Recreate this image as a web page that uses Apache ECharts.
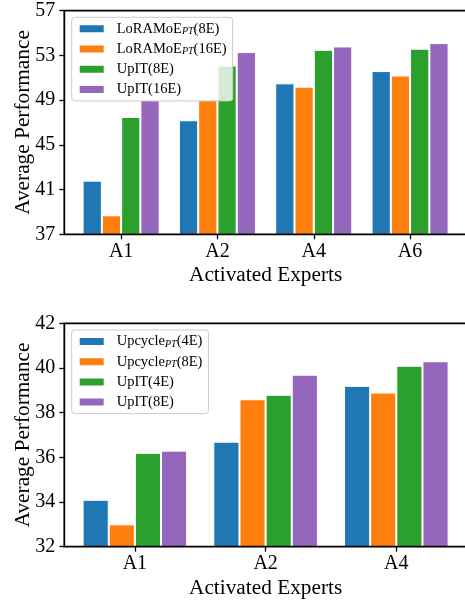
<!DOCTYPE html>
<html>
<head>
<meta charset="utf-8">
<script src="https://cdn.jsdelivr.net/npm/echarts@6/dist/echarts.min.js"></script>
<style>
html,body{margin:0;padding:0;background:#fff;overflow:hidden;}
#chart{width:465px;height:601px;}
</style>
</head>
<body>
<div id="chart"></div>
<script>
// ---- Top chart data ----
const topCategories = ['A1', 'A2', 'A4', 'A6'];
const topNames = ['LoRAMoE_PT(8E)', 'LoRAMoE_PT(16E)', 'UpIT(8E)', 'UpIT(16E)'];
const loramoe8E = [41.8, 47.2, 50.5, 51.6];
const loramoe16E = [38.7, 49.0, 50.2, 51.2];
const upit8E = [47.5, 52.1, 53.5, 53.6];
const upit16E = [49.0, 53.3, 53.8, 54.1];
const topYTicks = { min: 37, max: 57, interval: 4 };

// ---- Bottom chart data ----
const bottomCategories = ['A1', 'A2', 'A4'];
const bottomNames = ['Upcycle_PT(4E)', 'Upcycle_PT(8E)', 'UpIT(4E)', 'UpIT(8E) '];
const upcycle4E = [34.1, 36.7, 39.2];
const upcycle8E = [33.0, 38.6, 38.9];
const upit4E = [36.2, 38.8, 40.1];
const upit8E_b = [36.3, 39.7, 40.3];
const bottomYTicks = { min: 32, max: 42, interval: 2 };

const colors = ['#1f77b4', '#ff7f0e', '#2ca02c', '#9467bd'];
const FONT = 'Liberation Serif';

const chart = echarts.init(document.getElementById('chart'), null, { renderer: 'canvas' });

function legendCfg(names, top) {
  return {
    orient: 'vertical',
    left: 71.7,
    top: top,
    data: names,
    icon: 'rect',
    itemWidth: 26,
    itemHeight: 9,
    itemGap: 5.2,
    padding: [4, 6, 4, 6],
    backgroundColor: 'rgba(255,255,255,0.8)',
    borderColor: '#cccccc',
    borderWidth: 1,
    borderRadius: 3,
    selectedMode: false,
    formatter: n => n.trim().replace('_PT', '{sub|PT}'),
    textStyle: {
      fontFamily: FONT, fontSize: 14.5, color: '#000', lineHeight: 15,
      padding: [0, 0, 0, 7],
      rich: {
        sub: { fontFamily: FONT, fontSize: 10, fontStyle: 'italic', color: '#000', lineHeight: 6, verticalAlign: 'bottom' }
      }
    }
  };
}

function yAxisCfg(grid, ticks, offset) {
  return {
    type: 'value', gridIndex: grid, min: ticks.min, max: ticks.max, interval: ticks.interval,
    offset: offset,
    name: 'Average Performance', nameLocation: 'middle', nameGap: 30, nameMoveOverlap: false,
    nameTextStyle: { fontFamily: FONT, fontSize: 21.3, color: '#000' },
    axisLine: { show: false },
    axisTick: { show: true, inside: false, length: 5, lineStyle: { color: '#000', width: 1.3 } },
    axisLabel: { fontFamily: FONT, fontSize: 20, color: '#000', margin: 9 },
    splitLine: { show: false }
  };
}

function xAxisCfg(grid, cats) {
  return {
    type: 'category', gridIndex: grid, data: cats,
    name: 'Activated Experts', nameLocation: 'middle', nameGap: 31,
    nameTextStyle: { fontFamily: FONT, fontSize: 21.3, color: '#000' },
    axisLine: { show: false },
    axisTick: { show: true, alignWithLabel: true, inside: false, length: 5, lineStyle: { color: '#000', width: 1.3 } },
    axisLabel: { fontFamily: FONT, fontSize: 20, color: '#000', margin: 7 },
    splitLine: { show: false }
  };
}

function barSeries(name, data, idx, axisIdx) {
  return {
    type: 'bar', name: name, data: data,
    xAxisIndex: axisIdx, yAxisIndex: axisIdx,
    barCategoryGap: '20%', barGap: '0%',
    itemStyle: { color: colors[idx], borderColor: '#ffffff', borderWidth: 1 },
    emphasis: { disabled: true },
    z: 2
  };
}

const topSeriesData = [loramoe8E, loramoe16E, upit8E, upit16E];
const bottomSeriesData = [upcycle4E, upcycle8E, upit4E, upit8E_b];

const series = [];
topSeriesData.forEach((d, i) => series.push(barSeries(topNames[i], d, i, 0)));
bottomSeriesData.forEach((d, i) => series.push(barSeries(bottomNames[i], d, i, 1)));

const frameLeft = 64.3, frameWidth = 402.6;
const topUnit = frameWidth / 4.18, bottomUnit = frameWidth / 3.08;

const gridCommon = { outerBoundsMode: 'none', containLabel: false };

chart.setOption({
  animation: false,
  backgroundColor: '#fff',
  grid: [
    // data grids
    Object.assign({ left: frameLeft + 0.09 * topUnit, top: 10.7, width: 4 * topUnit, height: 223.6 }, gridCommon),
    Object.assign({ left: frameLeft + 0.04 * bottomUnit, top: 323.3, width: 3 * bottomUnit, height: 223.4 }, gridCommon),
    // frame grids
    Object.assign({ left: frameLeft, top: 10.7, width: frameWidth + 4, height: 223.6, show: true, borderColor: '#000', borderWidth: 1.8, backgroundColor: 'transparent', z: 10 }, gridCommon),
    Object.assign({ left: frameLeft, top: 323.3, width: frameWidth + 4, height: 223.4, show: true, borderColor: '#000', borderWidth: 1.8, backgroundColor: 'transparent', z: 10 }, gridCommon)
  ],
  xAxis: [
    xAxisCfg(0, topCategories),
    xAxisCfg(1, bottomCategories),
    { type: 'value', gridIndex: 2, show: false },
    { type: 'value', gridIndex: 3, show: false }
  ],
  yAxis: [
    yAxisCfg(0, topYTicks, 0.09 * topUnit),
    yAxisCfg(1, bottomYTicks, 0.04 * bottomUnit),
    { type: 'value', gridIndex: 2, show: false },
    { type: 'value', gridIndex: 3, show: false }
  ],
  legend: [legendCfg(topNames, 17.3), legendCfg(bottomNames, 330)],
  series: series
});
</script>
</body>
</html>
